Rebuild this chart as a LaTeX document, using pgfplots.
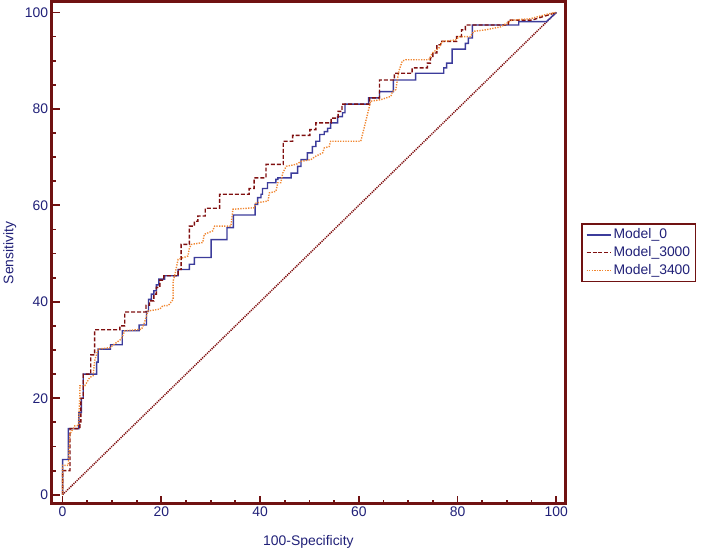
\documentclass[border=0pt]{standalone}
\usepackage{fontspec}
\setmainfont{Liberation Sans}
\usepackage{pgfplots}
\pgfplotsset{compat=1.18}

\definecolor{framered}{RGB}{112,18,18}
\definecolor{navy}{RGB}{32,32,120}
\definecolor{mzero}{RGB}{60,60,155}
\definecolor{mthree}{RGB}{128,16,16}
\definecolor{mfour}{RGB}{240,135,50}

\begin{document}
\begin{tikzpicture}
\path (0bp,0bp) rectangle (707bp,553bp);
\begin{axis}[
    at={(50bp,48bp)}, anchor=south west,
    x=4.95bp, y=4.835bp,
    xmin=-2.2, xmax=101.8, ymin=-1.86, ymax=102.2,
    axis line style={draw=framered, line width=3bp},
    xtick={0,20,...,100}, ytick={0,20,...,100},
    minor tick num=3,
    tick align=inside,
    xtick pos=left, ytick pos=left,
    major tick length=8bp, minor tick length=4bp,
    tick style={framered, line width=1.8bp},
    /pgf/number format/assume math mode=true,
    ticklabel style={text=navy, font=\fontsize{14}{16}\selectfont},
    xlabel={100-Specificity}, ylabel={Sensitivity},
    label style={text=navy, font=\fontsize{14}{16}\selectfont},
    xlabel style={at={(axis description cs:0.5,-0.0755)}, anchor=center},
    ylabel style={at={(axis description cs:-0.0816,0.5)}, anchor=center, rotate=0},
    legend style={at={(axis description cs:1.031,0.5)}, anchor=west,
        draw=framered, line width=1.5bp, text=navy,
        font=\fontsize{14}{16}\selectfont,
        nodes={inner sep=1.5bp, text height=10bp, text depth=3bp},
        row sep=2bp, inner xsep=4bp, inner ysep=3bp},
    legend cell align=left,
    legend image code/.code={\draw[#1] (0bp,0bp) -- (25bp,0bp);},
]

% chance line
\addplot[mthree, line width=1.5bp, dash pattern=on 1.2bp off 1bp, forget plot]
    coordinates {(0,0) (100,100)};

% Model_0
\addplot[mzero, line width=1.4bp] coordinates {
(0,0)(0,7.3)(1.15,7.3)(1.15,13.7)(3.3,13.7)(3.3,17)(3.8,17)(3.8,20)(4.2,20)(4.2,25)
(6.9,25)(6.9,27.5)(7.2,27.5)(7.2,30.2)(9.7,30.2)(9.7,31.1)(12.1,31.1)(12.1,34)(15.5,34)
(15.5,35.2)(17,35.2)(17,38)(17.4,38)(17.4,40.5)(18,40.5)(18,41.6)(18.5,41.6)(18.5,42.3)
(19,42.3)(19,43.5)(19.5,43.5)(19.5,44.7)(20.7,44.7)(20.7,45.4)(23.4,45.4)(23.4,46.7)
(25.7,46.7)(25.7,47.8)(26.7,47.8)(26.7,49.2)(30.1,49.2)(30.1,52.9)(33.3,52.9)(33.3,55.4)
(34.6,55.4)(34.6,58)(39,58)(39,60.2)(39.5,60.2)(39.5,61.6)(40.2,61.6)(40.2,62.3)
(40.5,62.3)(40.5,63.5)(41.5,63.5)(41.5,64.7)(43.2,64.7)(43.2,65.4)(43.6,65.4)(43.6,65.7)
(46.3,65.7)(46.3,66.7)(47.6,66.7)(47.6,68.1)(48.3,68.1)(48.3,69.5)(49.6,69.5)(49.6,70.9)
(50.6,70.9)(50.6,72.2)(51.3,72.2)(51.3,73.3)(52.1,73.3)(52.1,74.7)(53,74.7)(53,75.3)
(53.7,75.3)(53.7,76)(54.3,76)(54.3,77.1)(55.7,77.1)(55.7,78.4)(56.7,78.4)(56.7,79.2)
(57.2,79.2)(57.2,81)(62,81)(62,82.3)(64.2,82.3)(64.2,83.6)(67,83.6)(67,86)(71.5,86)
(71.5,87.4)(77.2,87.4)(77.2,88.5)(77.8,88.5)(77.8,89.5)(78.9,89.5)(78.9,92.4)(81.6,92.4)
(81.6,93.6)(82.2,93.6)(82.2,94.7)(83,94.7)(83,97.4)(92.4,97.4)(92.4,98.1)(98,98.1)(100,100)
};
\addlegendentry{Model\_0}

% Model_3000
\addplot[mthree, line width=1.4bp, dash pattern=on 4bp off 2bp] coordinates {
(0,0)(0,5)(1.5,5)(1.5,13.7)(3.5,13.7)(3.5,15.1)(3.7,15.1)(3.7,20)(4.2,20)(4.2,25)
(5.7,25)(5.7,29)(6.5,29)(6.5,34.2)(11.6,34.2)(11.6,35)(12.6,35)(12.6,37.9)(16.9,37.9)
(16.9,39.3)(17.6,39.3)(17.6,40.2)(18.5,40.2)(18.5,41.6)(19,41.6)(19,43)(19.7,43)
(19.7,44.5)(20.5,44.5)(20.5,45.4)(23.4,45.4)(23.4,46.7)(24,46.7)(24,51.9)(25.7,51.9)
(25.7,55.7)(26.7,55.7)(26.7,56.7)(27.4,56.7)(27.4,57.8)(28.9,57.8)(28.9,59.4)(31.8,59.4)
(31.8,62.3)(37.8,62.3)(37.8,63.5)(38.8,63.5)(38.8,65.7)(41.2,65.7)(41.2,68.5)(44.7,68.5)
(44.7,73.3)(46.6,73.3)(46.6,74.5)(50.1,74.5)(50.1,75.7)(51.3,75.7)(51.3,77.1)(54.4,77.1)
(54.4,78.1)(55.8,78.1)(55.8,79.5)(56.6,79.5)(56.6,81)(62.2,81)(62.2,82.3)(64.2,82.3)
(64.2,86)(67.2,86)(67.2,87.4)(70.8,87.4)(70.8,88.5)(73.9,88.5)(73.9,89.5)(74.5,89.5)
(74.5,90.6)(75,90.6)(75,91.6)(75.8,91.6)(75.8,93.3)(76.6,93.3)(76.6,94)(79.8,94)
(79.8,95)(80.8,95)(80.8,96.4)(81.6,96.4)(81.6,97.4)(90.3,97.4)(90.3,98.4)(95,98.4)(100,100)
};
\addlegendentry{Model\_3000}

% Model_3400
\addplot[mfour, line width=1.4bp, dash pattern=on 1.3bp off 1.3bp] coordinates {
(0,0)(0,6.1)(1.15,6.1)(1.5,12.6)(2.5,14.3)(3.2,14.3)(3.5,20.5)(3.5,22.6)(4.5,22.6)
(5.5,24.3)(6.2,24.7)(6.5,27.8)(7.2,30.2)(9.6,30.5)(10.2,31)(11.9,32.3)(12.6,34)(16,34.3)
(16.6,35.7)(17,37.1)(17.3,38.1)(19.7,38.5)(20.3,39.2)(21.4,39.2)(22.4,40.5)(22.4,44.3)
(22.7,45.4)(23.4,48.8)(25.4,49.5)(25.7,51.2)(26.1,51.9)(28.4,52.3)(28.7,54)(30.4,54.7)
(30.8,55.7)(34.1,55.7)(34.5,59.2)(38.8,59.5)(39.2,60.5)(41.6,60.9)(41.9,62.6)(43.2,62.9)
(43.6,64.7)(44.2,64.7)(44.6,66.7)(45.3,68.1)(47.3,68.5)(48.3,69.1)(50.3,69.5)(51.3,70.2)
(52.7,70.9)(53,71.9)(54,72.2)(54.3,73.3)(60.4,73.3)(61,75.7)(62.4,81.6)(64.4,81.9)
(66.5,82.6)(66.8,83.6)(67.5,84)(68.1,87.8)(68.8,89.9)(69.5,90.2)(74.2,90.2)(74.9,91.6)
(76.2,92.6)(76.9,94)(79.6,94.3)(80.3,95)(82.6,95)(83.3,96.1)(85.7,96.4)(88.7,97)
(91,98.4)(94.7,98.7)(98.8,99.8)(100,100)
};
\addlegendentry{Model\_3400}

\end{axis}
\end{tikzpicture}
\end{document}
